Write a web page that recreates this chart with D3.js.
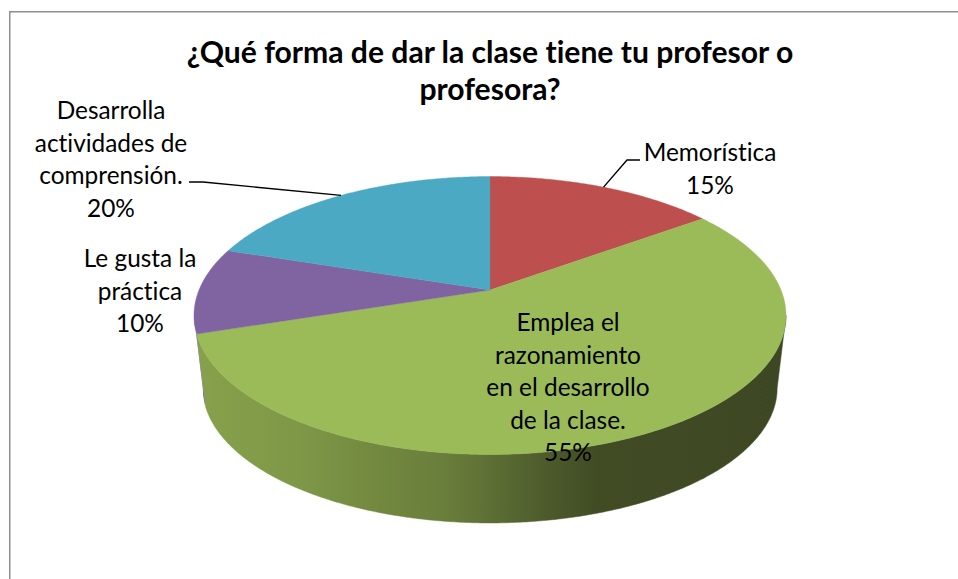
<!DOCTYPE html>
<html><head><meta charset="utf-8">
<script src="https://cdn.jsdelivr.net/npm/d3@7"></script>
<style>html,body{margin:0;background:#fff}svg{display:block}text{font-family:Lato,"Open Sans",sans-serif;fill:#000;font-variant-ligatures:none}</style>
</head><body><svg id="c" width="958" height="579"></svg>
<script>
const categories = ["Memorística","Emplea el razonamiento en el desarrollo de la clase.","Le gusta la práctica","Desarrolla actividades de comprensión."];
const values = [15,55,10,20];
const colors = ["#bd4f4e","#9bbb59","#8064a2","#4ba9c4"];
const percentLabels = ["15%","55%","10%","20%"];
const labelLines = [["Memorística","15%"],["Emplea el","razonamiento","en el desarrollo","de la clase.","55%"],["Le gusta la","práctica","10%"],["Desarrolla","actividades de","comprensión.","20%"]];
const titleLines = ["¿Qué forma de dar la clase tiene tu profesor o","profesora?"];

const svg = d3.select("#c");
const W=958,H=579, FS=24.4, LH=32.5;
svg.append("rect").attr("width",W).attr("height",H).attr("fill","#fff");
svg.append("path").attr("d",`M9.75 ${H}V11.75H${W}`).attr("fill","none").attr("stroke","#8e8e8e").attr("stroke-width",1.5);

// Perspective projection of the pie disc
const cx=490, k=0.1835, A=291, B=134.3;
const top_ = {cy:290, s:1}, bot = {cy:363.4, s:0.97};
const proj=(t,p)=>{const u=Math.sin(t),v=-Math.cos(t),w=1-k*v;return [cx+p.s*A*u/w,p.cy+p.s*B*v/w];};
const arcs=d3.pie().sort(null).value(d=>d)(values);
const deg=Math.PI/180, silR=Math.acos(-k), silL=2*Math.PI-silR;
const sample=(a,b)=>{const n=Math.max(2,Math.ceil(Math.abs(b-a)/(deg/2)));return d3.range(n+1).map(i=>a+(b-a)*i/n);};
const line=d3.line();

const grad=svg.append("defs").append("linearGradient").attr("id","wall").attr("gradientUnits","userSpaceOnUse").attr("x1",203).attr("x2",780).attr("y1",0).attr("y2",0);
[[0,"#87a04b"],[.16,"#7f9848"],[.3,"#72893f"],[.42,"#697e3b"],[.5,"#5d6e34"],[.6,"#4c5a2b"],[.68,"#414c25"],[1,"#3e4723"]].forEach(s=>grad.append("stop").attr("offset",s[0]).attr("stop-color",s[1]));

// walls
arcs.forEach((a,i)=>{
  const s=Math.max(a.startAngle,silR), e=Math.min(a.endAngle,silL);
  if(e<=s) return;
  const ts=sample(s,e);
  const pts=ts.map(t=>proj(t,top_)).concat(ts.slice().reverse().map(t=>proj(t,bot)));
  svg.append("path").attr("d",line(pts)+"Z").attr("fill",i===1?"url(#wall)":d3.color(colors[i]).darker(.3)).attr("stroke",i===1?"url(#wall)":"none").attr("stroke-width",.5);
});
// top slices
arcs.forEach((a,i)=>{
  const pts=[[cx,top_.cy]].concat(sample(a.startAngle,a.endAngle).map(t=>proj(t,top_)));
  svg.append("path").attr("d",line(pts)+"Z").attr("fill",colors[i]).attr("stroke",colors[i]).attr("stroke-width",.4);
});
// leader lines
const mid=a=>(a.startAngle+a.endAngle)/2;
const leaders=[[0,[[627,160],[640,160]]],[3,[[203,182],[189,182]]]];
leaders.forEach(([i,rest])=>{
  svg.append("path").attr("d",line([proj(mid(arcs[i]),top_)].concat(rest))).attr("fill","none").attr("stroke","#000").attr("stroke-width",1.4);
});
// text
titleLines.forEach((t,i)=>svg.append("text").attr("x",490).attr("y",63+i*37).attr("text-anchor","middle").attr("font-weight",700).attr("font-size",30.1).text(t));
const anchors=[[710,161],[568,331],[140,267],[111,119]];
labelLines.forEach((ls,i)=>ls.forEach((t,j)=>svg.append("text").attr("x",anchors[i][0]).attr("y",anchors[i][1]+j*LH).attr("text-anchor","middle").attr("font-size",FS).text(t)));
</script></body></html>
